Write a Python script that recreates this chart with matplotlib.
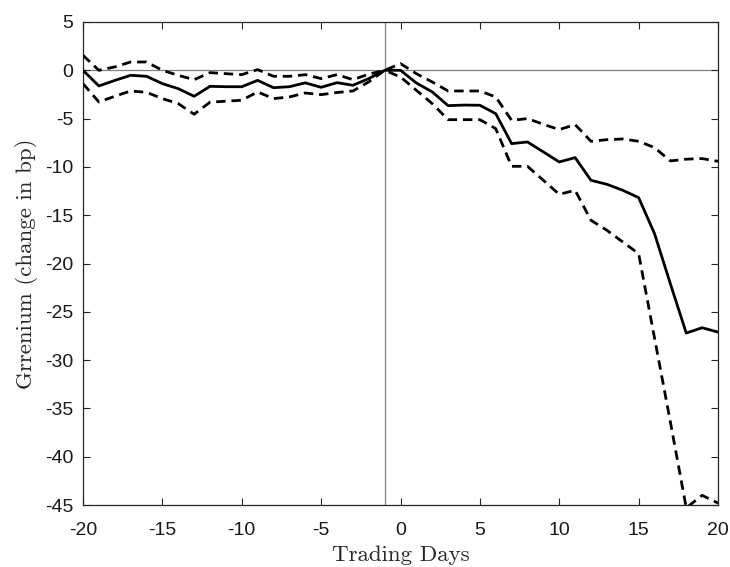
import matplotlib
matplotlib.use("Agg")
import matplotlib.pyplot as plt
import numpy as np

days = list(range(-20, 21))
estimate = [0.0, -1.62, -1.05, -0.52, -0.62, -1.38, -1.9, -2.69, -1.66, -1.7,
            -1.7, -1.04, -1.8, -1.7, -1.3, -1.76, -1.28, -1.55, -0.86, 0.0,
            0.0, -1.31, -2.24, -3.66, -3.6, -3.62, -4.49, -7.59, -7.42, -8.45,
            -9.49, -9.04, -11.39, -11.8, -12.42, -13.18, -16.9, -22.1, -27.2, -26.65,
            -27.1]
upper = [1.55, 0.0, 0.35, 0.86, 0.86, 0.0, -0.52, -0.97, -0.24, -0.35,
         -0.45, 0.07, -0.62, -0.62, -0.45, -0.86, -0.45, -0.97, -0.4, 0.0,
         0.69, -0.35, -1.21, -2.14, -2.14, -2.14, -2.76, -5.18, -5.0, -5.59,
         -6.14, -5.62, -7.35, -7.18, -7.11, -7.35, -8.0, -9.38, -9.2, -9.14,
         -9.42]
lower = [-1.38, -3.28, -2.69, -2.14, -2.28, -2.93, -3.45, -4.55, -3.3, -3.2,
         -3.1, -2.24, -2.93, -2.76, -2.35, -2.52, -2.3, -2.14, -1.2, 0.0,
         -0.69, -2.07, -3.45, -5.11, -5.11, -5.11, -6.04, -9.94, -9.94, -11.39,
         -12.84, -12.42, -15.53, -16.56, -17.77, -18.98, -27.7, -36.4, -45.3, -44.0,
         -44.8]
xticks = [-20, -15, -10, -5, 0, 5, 10, 15, 20]
yticks = [5, 0, -5, -10, -15, -20, -25, -30, -35, -40, -45]

fig = plt.figure(figsize=(7.3, 5.67), dpi=100)
ax = fig.add_axes([83/730, 1-505/567, (718-83)/730, (505-22)/567])

ax.axhline(0, color="#808080", lw=0.9, zorder=1)
ax.axvline(-1, color="#808080", lw=0.9, zorder=1)
ax.plot(days, estimate, color="black", lw=2.0, zorder=3)
ax.plot(days, upper, color="black", lw=2.0, ls=(0, (3.4, 2.1)), zorder=3)
ax.plot(days, lower, color="black", lw=2.0, ls=(0, (3.4, 2.1)), zorder=3)

ax.set_xlim(-20, 20)
ax.set_ylim(-45, 5)
ax.set_xticks(xticks)
ax.set_yticks(yticks)
ax.set_xticklabels([str(t) for t in xticks])
ax.set_yticklabels([str(t) for t in yticks])
ax.tick_params(direction="in", length=5, width=0.8, top=True, right=True,
               labelsize=14, colors="#262626")
ax.tick_params(axis="x", pad=12.5)
ax.tick_params(axis="y", pad=7)
for lab in ax.get_xticklabels() + ax.get_yticklabels():
    lab.set_family("Liberation Sans")
    lab.set_color("#1a1a1a")
for sp in ax.spines.values():
    sp.set_linewidth(0.9)
    sp.set_color("#262626")

ax.set_xlabel("Trading Days", family="cmr10", fontsize=16.5, color="#262626")
ax.xaxis.label.set_va("baseline")
ax.xaxis.set_label_coords(0.5, (505 - 561) / 483)
ax.set_ylabel("Grrenium (change in bp)", family="cmr10", fontsize=16.5, color="#262626")
ax.yaxis.label.set_va("baseline")
ax.yaxis.set_label_coords((32 - 83) / 635, 0.5)

fig.savefig("out.png", dpi=100)
